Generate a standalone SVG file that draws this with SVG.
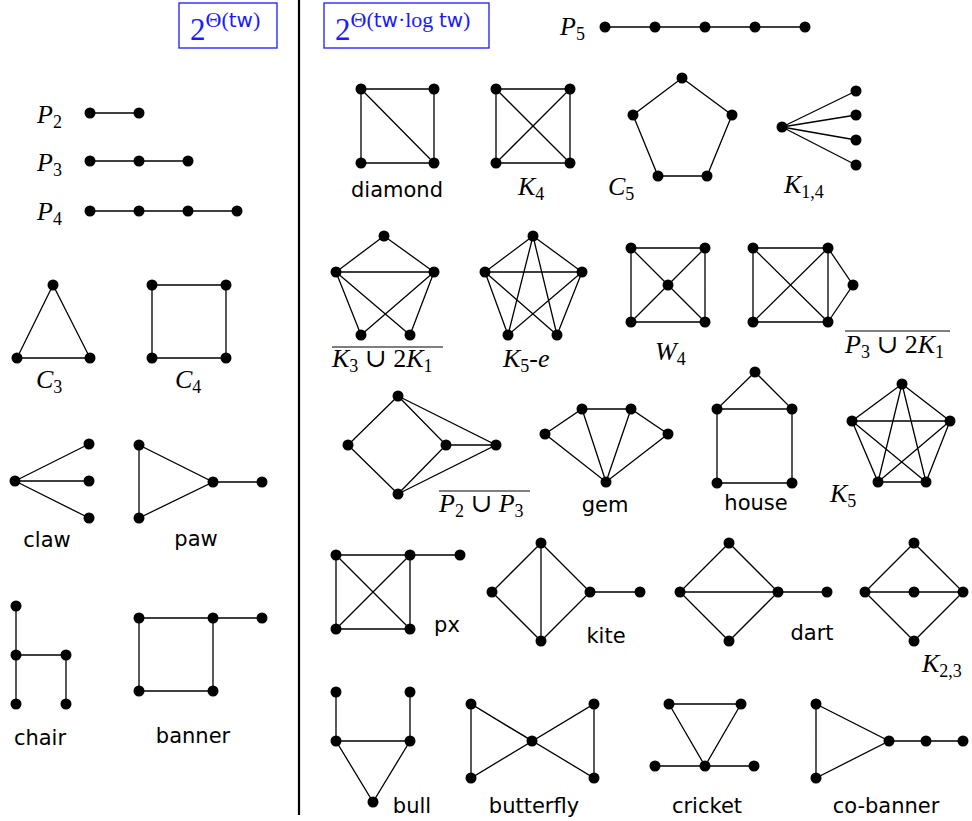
<svg xmlns="http://www.w3.org/2000/svg" width="972" height="821" viewBox="0 0 972 821">
<style>
.e{stroke:#000;stroke-width:1.3;fill:none}
.v circle{fill:#000}
.s{font-family:"DejaVu Sans",sans-serif;font-size:21px;text-anchor:middle;fill:#000}
.m{font-family:"Liberation Serif","DejaVu Serif",serif;font-size:26px;fill:#000}
.i{font-style:italic}
.sb{font-size:18px}
.ol{stroke:#000;stroke-width:1.2}
.hb{fill:none;stroke:#1a1aff;stroke-width:1.3}
.h{font-family:"Liberation Serif","DejaVu Serif",serif;fill:#1a1aff}
.hs{font-family:"DejaVu Sans",sans-serif}
</style>
<rect width="972" height="821" fill="#fff"/>
<line x1="299" y1="0" x2="299" y2="815" stroke="#000" stroke-width="2.2"/>
<g id="hdr1"><rect class="hb" x="179" y="3" width="98" height="45"/>
<text class="h" x="190" y="40" font-size="31">2<tspan font-size="22" dy="-13">Θ(<tspan class="hs" font-size="20">tw</tspan>)</tspan></text></g>
<g id="hdr2"><rect class="hb" x="324" y="3" width="165" height="45"/>
<text class="h" x="335" y="40" font-size="31">2<tspan font-size="22" dy="-13">Θ(<tspan class="hs" font-size="20">tw</tspan>·log <tspan class="hs" font-size="20">tw</tspan>)</tspan></text></g>
<g id="P5"><g class="edges"><path class="e" d="M605 27H805"/></g><g class="v"><circle cx="605" cy="27" r="5.5"/><circle cx="655" cy="27" r="5.5"/><circle cx="705" cy="27" r="5.5"/><circle cx="755" cy="27" r="5.5"/><circle cx="805" cy="27" r="5.5"/></g><text class="m" x="560" y="35"><tspan class="i">P</tspan><tspan class="sb" dy="5">5</tspan></text></g>
<g id="P2"><g class="edges"><path class="e" d="M90 113H139"/></g><g class="v"><circle cx="90" cy="113" r="5.5"/><circle cx="139" cy="113" r="5.5"/></g><text class="m" x="37" y="123"><tspan class="i">P</tspan><tspan class="sb" dy="5">2</tspan></text></g>
<g id="P3"><g class="edges"><path class="e" d="M90 161H188"/></g><g class="v"><circle cx="90" cy="161" r="5.5"/><circle cx="139" cy="161" r="5.5"/><circle cx="188" cy="161" r="5.5"/></g><text class="m" x="37" y="171"><tspan class="i">P</tspan><tspan class="sb" dy="5">3</tspan></text></g>
<g id="P4"><g class="edges"><path class="e" d="M90 211H237"/></g><g class="v"><circle cx="90" cy="211" r="5.5"/><circle cx="139" cy="211" r="5.5"/><circle cx="188" cy="211" r="5.5"/><circle cx="237" cy="211" r="5.5"/></g><text class="m" x="37" y="220"><tspan class="i">P</tspan><tspan class="sb" dy="5">4</tspan></text></g>
<g id="C3"><g class="edges"><path class="e" d="M53 285L17 358H90Z"/></g><g class="v"><circle cx="53" cy="285" r="5.5"/><circle cx="17" cy="358" r="5.5"/><circle cx="90" cy="358" r="5.5"/></g><text class="m" x="36" y="388"><tspan class="i">C</tspan><tspan class="sb" dy="5">3</tspan></text></g>
<g id="C4"><g class="edges"><path class="e" d="M152 285H226V358H152Z"/></g><g class="v"><circle cx="152" cy="285" r="5.5"/><circle cx="226" cy="285" r="5.5"/><circle cx="152" cy="358" r="5.5"/><circle cx="226" cy="358" r="5.5"/></g><text class="m" x="175" y="388"><tspan class="i">C</tspan><tspan class="sb" dy="5">4</tspan></text></g>
<g id="claw"><g class="edges"><path class="e" d="M15 481L89 444M15 481H89M15 481L89 518"/></g><g class="v"><circle cx="15" cy="481" r="5.5"/><circle cx="89" cy="444" r="5.5"/><circle cx="89" cy="481" r="5.5"/><circle cx="89" cy="518" r="5.5"/></g><text class="s" x="47" y="547">claw</text></g>
<g id="paw"><g class="edges"><path class="e" d="M139 445V518L213 482ZM213 482H262"/></g><g class="v"><circle cx="139" cy="445" r="5.5"/><circle cx="139" cy="518" r="5.5"/><circle cx="213" cy="482" r="5.5"/><circle cx="262" cy="482" r="5.5"/></g><text class="s" x="196" y="546">paw</text></g>
<g id="chair"><g class="edges"><path class="e" d="M16 606V704M16 655H66V704"/></g><g class="v"><circle cx="16" cy="606" r="5.5"/><circle cx="16" cy="655" r="5.5"/><circle cx="16" cy="704" r="5.5"/><circle cx="66" cy="655" r="5.5"/><circle cx="66" cy="704" r="5.5"/></g><text class="s" x="40" y="745">chair</text></g>
<g id="banner"><g class="edges"><path class="e" d="M139 618H213V691H139ZM213 618H262"/></g><g class="v"><circle cx="139" cy="618" r="5.5"/><circle cx="213" cy="618" r="5.5"/><circle cx="262" cy="618" r="5.5"/><circle cx="139" cy="691" r="5.5"/><circle cx="213" cy="691" r="5.5"/></g><text class="s" x="193" y="743">banner</text></g>
<g id="diamond"><g class="edges"><path class="e" d="M361 89H434V163H361ZM361 89L434 163"/></g><g class="v"><circle cx="361" cy="89" r="5.5"/><circle cx="434" cy="89" r="5.5"/><circle cx="361" cy="163" r="5.5"/><circle cx="434" cy="163" r="5.5"/></g><text class="s" x="397" y="197">diamond</text></g>
<g id="K4"><g class="edges"><path class="e" d="M496 89H570V163H496ZM496 89L570 163M570 89L496 163"/></g><g class="v"><circle cx="496" cy="89" r="5.5"/><circle cx="570" cy="89" r="5.5"/><circle cx="496" cy="163" r="5.5"/><circle cx="570" cy="163" r="5.5"/></g><text class="m" x="518" y="195"><tspan class="i">K</tspan><tspan class="sb" dy="5">4</tspan></text></g>
<g id="C5"><g class="edges"><path class="e" d="M682 78L732 115L707 176H658L633 115Z"/></g><g class="v"><circle cx="682" cy="78" r="5.5"/><circle cx="732" cy="115" r="5.5"/><circle cx="707" cy="176" r="5.5"/><circle cx="658" cy="176" r="5.5"/><circle cx="633" cy="115" r="5.5"/></g><text class="m" x="608" y="195"><tspan class="i">C</tspan><tspan class="sb" dy="5">5</tspan></text></g>
<g id="K14"><g class="edges"><path class="e" d="M782 127L856 91M782 127L856 115M782 127L856 140M782 127L856 165"/></g><g class="v"><circle cx="782" cy="127" r="5.5"/><circle cx="856" cy="91" r="5.5"/><circle cx="856" cy="115" r="5.5"/><circle cx="856" cy="140" r="5.5"/><circle cx="856" cy="165" r="5.5"/></g><text class="m" x="784" y="193"><tspan class="i">K</tspan><tspan class="sb" dy="5">1,4</tspan></text></g>
<g id="coK3u2K1"><g class="edges"><path class="e" d="M384 236L336 272H434ZM336 272L361 335M336 272L410 335M434 272L361 335M434 272L410 335"/></g><g class="v"><circle cx="384" cy="236" r="5.5"/><circle cx="336" cy="272" r="5.5"/><circle cx="434" cy="272" r="5.5"/><circle cx="361" cy="335" r="5.5"/><circle cx="410" cy="335" r="5.5"/></g><line class="ol" x1="332" y1="347" x2="443" y2="347"/><text class="m" x="332" y="367"><tspan class="i">K</tspan><tspan class="sb" dy="5">3</tspan><tspan dy="-5"> ∪ 2</tspan><tspan class="i">K</tspan><tspan class="sb" dy="5">1</tspan></text></g>
<g id="K5e"><g class="edges"><path class="e" d="M533 236L485 272H582ZM533 236L508 335M533 236L557 335M485 272L508 335M485 272L557 335M582 272L508 335M582 272L557 335"/></g><g class="v"><circle cx="533" cy="236" r="5.5"/><circle cx="485" cy="272" r="5.5"/><circle cx="582" cy="272" r="5.5"/><circle cx="508" cy="335" r="5.5"/><circle cx="557" cy="335" r="5.5"/></g><text class="m" x="503" y="367"><tspan class="i">K</tspan><tspan class="sb" dy="5">5</tspan><tspan dy="-5">-</tspan><tspan class="i">e</tspan></text></g>
<g id="W4"><g class="edges"><path class="e" d="M631 248H705V322H631ZM631 248L705 322M705 248L631 322"/></g><g class="v"><circle cx="631" cy="248" r="5.5"/><circle cx="705" cy="248" r="5.5"/><circle cx="631" cy="322" r="5.5"/><circle cx="705" cy="322" r="5.5"/><circle cx="668" cy="285" r="5.5"/></g><text class="m" x="655" y="360"><tspan class="i">W</tspan><tspan class="sb" dy="5">4</tspan></text></g>
<g id="coP3u2K1"><g class="edges"><path class="e" d="M753 248H828V322H753ZM753 248L828 322M828 248L753 322M828 248L853 285L828 322"/></g><g class="v"><circle cx="753" cy="248" r="5.5"/><circle cx="828" cy="248" r="5.5"/><circle cx="753" cy="322" r="5.5"/><circle cx="828" cy="322" r="5.5"/><circle cx="853" cy="285" r="5.5"/></g><line class="ol" x1="845" y1="331" x2="950" y2="331"/><text class="m" x="845" y="353"><tspan class="i">P</tspan><tspan class="sb" dy="5">3</tspan><tspan dy="-5"> ∪ 2</tspan><tspan class="i">K</tspan><tspan class="sb" dy="5">1</tspan></text></g>
<g id="coP2uP3"><g class="edges"><path class="e" d="M398 396L348 445L398 494M398 396L446 445L398 494M398 396L496 445L398 494M446 445H496"/></g><g class="v"><circle cx="398" cy="396" r="5.5"/><circle cx="348" cy="445" r="5.5"/><circle cx="446" cy="445" r="5.5"/><circle cx="496" cy="445" r="5.5"/><circle cx="398" cy="494" r="5.5"/></g><line class="ol" x1="439" y1="491" x2="530" y2="491"/><text class="m" x="439" y="512"><tspan class="i">P</tspan><tspan class="sb" dy="5">2</tspan><tspan dy="-5"> ∪ </tspan><tspan class="i">P</tspan><tspan class="sb" dy="5">3</tspan></text></g>
<g id="gem"><g class="edges"><path class="e" d="M545 434L582 409H631L668 434L606 482ZM582 409L606 482M631 409L606 482"/></g><g class="v"><circle cx="545" cy="434" r="5.5"/><circle cx="582" cy="409" r="5.5"/><circle cx="631" cy="409" r="5.5"/><circle cx="668" cy="434" r="5.5"/><circle cx="606" cy="482" r="5.5"/></g><text class="s" x="605" y="512">gem</text></g>
<g id="house"><g class="edges"><path class="e" d="M755 372L717 409H792ZM717 409V483H792V409"/></g><g class="v"><circle cx="755" cy="372" r="5.5"/><circle cx="717" cy="409" r="5.5"/><circle cx="792" cy="409" r="5.5"/><circle cx="717" cy="483" r="5.5"/><circle cx="792" cy="483" r="5.5"/></g><text class="s" x="756" y="510">house</text></g>
<g id="K5"><g class="edges"><path class="e" d="M902 384L950 421L926 482H878L852 421ZM902 384L878 482M902 384L926 482M852 421H950M852 421L926 482M950 421L878 482"/></g><g class="v"><circle cx="902" cy="384" r="5.5"/><circle cx="852" cy="421" r="5.5"/><circle cx="950" cy="421" r="5.5"/><circle cx="878" cy="482" r="5.5"/><circle cx="926" cy="482" r="5.5"/></g><text class="m" x="830" y="502"><tspan class="i">K</tspan><tspan class="sb" dy="5">5</tspan></text></g>
<g id="px"><g class="edges"><path class="e" d="M336 555H410V629H336ZM336 555L410 629M410 555L336 629M410 555H460"/></g><g class="v"><circle cx="336" cy="555" r="5.5"/><circle cx="410" cy="555" r="5.5"/><circle cx="460" cy="555" r="5.5"/><circle cx="336" cy="629" r="5.5"/><circle cx="410" cy="629" r="5.5"/></g><text class="s" x="447" y="632">px</text></g>
<g id="kite"><g class="edges"><path class="e" d="M541 543L492 592L541 641L590 592ZM541 543V641M590 592H640"/></g><g class="v"><circle cx="541" cy="543" r="5.5"/><circle cx="492" cy="592" r="5.5"/><circle cx="590" cy="592" r="5.5"/><circle cx="541" cy="641" r="5.5"/><circle cx="640" cy="592" r="5.5"/></g><text class="s" x="606" y="643">kite</text></g>
<g id="dart"><g class="edges"><path class="e" d="M729 543L680 592L729 641L778 592ZM680 592H827"/></g><g class="v"><circle cx="729" cy="543" r="5.5"/><circle cx="680" cy="592" r="5.5"/><circle cx="778" cy="592" r="5.5"/><circle cx="729" cy="641" r="5.5"/><circle cx="827" cy="592" r="5.5"/></g><text class="s" x="812" y="640">dart</text></g>
<g id="K23"><g class="edges"><path class="e" d="M914 543L865 592L914 641L963 592ZM865 592H963"/></g><g class="v"><circle cx="914" cy="543" r="5.5"/><circle cx="865" cy="592" r="5.5"/><circle cx="914" cy="592" r="5.5"/><circle cx="963" cy="592" r="5.5"/><circle cx="914" cy="641" r="5.5"/></g><text class="m" x="922" y="672"><tspan class="i">K</tspan><tspan class="sb" dy="5">2,3</tspan></text></g>
<g id="bull"><g class="edges"><path class="e" d="M336 692V741H410V692M336 741L373 802L410 741"/></g><g class="v"><circle cx="336" cy="692" r="5.5"/><circle cx="410" cy="692" r="5.5"/><circle cx="336" cy="741" r="5.5"/><circle cx="410" cy="741" r="5.5"/><circle cx="373" cy="802" r="5.5"/></g><text class="s" x="412" y="813">bull</text></g>
<g id="butterfly"><g class="edges"><path class="e" d="M471 704V778L594 704V778ZM471 704L532 741"/></g><g class="v"><circle cx="471" cy="704" r="5.5"/><circle cx="471" cy="778" r="5.5"/><circle cx="532" cy="741" r="5.5"/><circle cx="594" cy="704" r="5.5"/><circle cx="594" cy="778" r="5.5"/></g><text class="s" x="534" y="813">butterfly</text></g>
<g id="cricket"><g class="edges"><path class="e" d="M669 704H741L705 766ZM655 766H754"/></g><g class="v"><circle cx="669" cy="704" r="5.5"/><circle cx="741" cy="704" r="5.5"/><circle cx="705" cy="766" r="5.5"/><circle cx="655" cy="766" r="5.5"/><circle cx="754" cy="766" r="5.5"/></g><text class="s" x="707" y="813">cricket</text></g>
<g id="cobanner"><g class="edges"><path class="e" d="M816 704V778L889 741ZM889 741H963"/></g><g class="v"><circle cx="816" cy="704" r="5.5"/><circle cx="816" cy="778" r="5.5"/><circle cx="889" cy="741" r="5.5"/><circle cx="926" cy="741" r="5.5"/><circle cx="963" cy="741" r="5.5"/></g><text class="s" x="886" y="813">co-banner</text></g>
</svg>
